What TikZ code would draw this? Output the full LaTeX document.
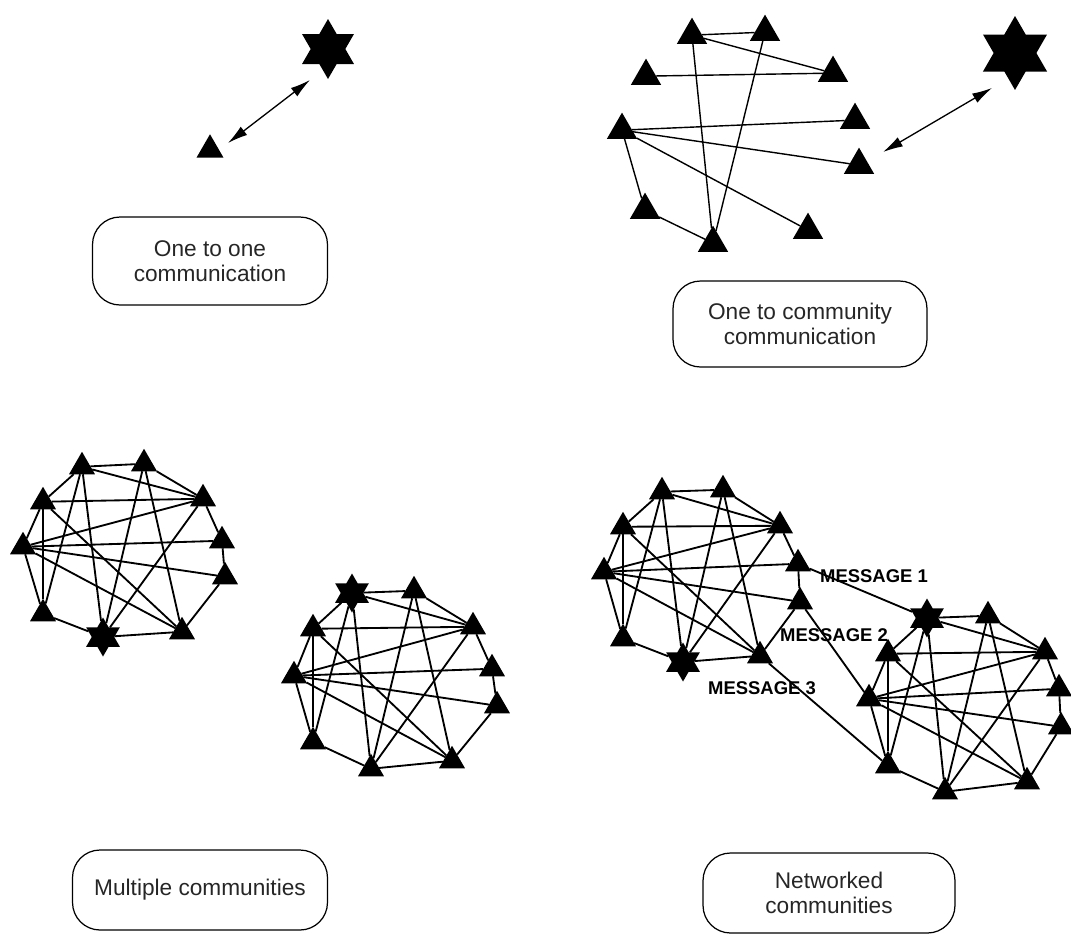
\documentclass[tikz,border=0pt]{standalone}
\usepackage{fontspec}
\setmainfont{Liberation Sans}
\usetikzlibrary{shapes.geometric,arrows.meta}

\tikzset{
  tri/.style={regular polygon, regular polygon sides=3, fill=black, draw=none,
              inner sep=0pt, outer sep=0pt, minimum size=0.6cm, yshift=-0.075cm},
  bigtri/.style={tri, minimum size=0.7cm, yshift=-0.0875cm},
  hexstar/.style={star, star points=6, star point ratio=1.732, fill=black, draw=none,
                  inner sep=0pt, outer sep=0pt, minimum size=0.78cm},
  link/.style={line width=1.05pt, black},
  thinlink/.style={line width=0.8pt, black},
  dblarrow/.style={line width=0.75pt,
                   {Latex[length=0.4cm,width=0.21cm]}-{Latex[length=0.4cm,width=0.21cm]}},
  caption/.style={draw, line width=0.7pt, rounded corners=0.55cm, align=center,
                  font=\fontsize{12.9}{13.9}\selectfont, inner sep=0pt, text=black!85},
  msg/.style={font=\fontsize{10.5}{12}\selectfont\bfseries, inner sep=0pt},
}

% the ten members of a community are A..J; this draws their fixed link pattern
\newcommand\linkcommunity[1]{%
  \foreach \u/\v in {A/B,A/C,A/D,A/H,A/I,B/C,B/I,B/J,C/D,C/E,C/F,C/I,D/F,D/H,D/J,
                     E/F,E/G,F/G,F/H,F/J,G/J,H/I,I/J}
    {\draw[link] (#1\u) -- (#1\v);}%
}

\begin{document}
\begin{tikzpicture}[x=0.02cm, y=-0.02cm]
\useasboundingbox (0,0) rectangle (1071,934);

% ---------- one to one ----------
\node[tri, minimum size=0.62cm] (oT) at (210,146) {};
\node[hexstar, minimum size=1.2cm] (oS) at (328,49) {};
\coordinate (oa) at (228,143);
\coordinate (ob) at (310,80);
\draw[dblarrow] (oa) -- (ob);
\node[caption, minimum width=4.7cm, minimum height=1.76cm] (cap1) at (210,261)
  {One to one\\communication};

% ---------- one to community ----------
\foreach \n/\x/\y in {1/692/27, 2/765/24, 3/646/68, 4/833/65, 5/855/112,
                      6/622/122, 7/859/157, 8/645/202, 9/713/235, 10/808/222}
  \node[bigtri] (t\n) at (\x,\y) {};
\node[hexstar, minimum size=1.48cm] (tS) at (1015,53) {};
\foreach \u/\v in {1/2, 1/4, 3/4, 1/9, 2/9, 6/5, 6/7, 6/8, 6/10, 8/9}
  \draw[thinlink] (t\u) -- (t\v);
\coordinate (ta) at (883,152);
\coordinate (tb) at (992,88);
\draw[dblarrow] (ta) -- (tb);
\node[caption, minimum width=5.08cm, minimum height=1.72cm] (cap2) at (800,324)
  {One to community\\communication};

% ---------- multiple communities ----------
\foreach \n/\x/\y in {A/82/463, B/144/460, C/203/495, D/43/498, E/222/537,
                      F/23/543, G/225/573, H/43/610, J/182/628}
  \node[tri] (p\n) at (\x,\y) {};
\node[hexstar] (pI) at (103,637) {};
\linkcommunity{p}

\node[hexstar] (qA) at (352,593) {};
\foreach \n/\x/\y in {B/414/587, C/473/623, D/313/625, E/492/665, F/294/672,
                      G/497/702, H/313/738, I/371/765, J/452/757}
  \node[tri] (q\n) at (\x,\y) {};
\linkcommunity{q}

\node[caption, minimum width=5.1cm, minimum height=1.6cm] (cap3) at (200,890)
  {Multiple communities};

% ---------- networked communities ----------
\foreach \n/\x/\y in {A/662/488, B/723/486, C/780/522, D/623/523, E/798/560,
                      F/604/568, G/800/598, H/623/635, J/760/652}
  \node[tri] (r\n) at (\x,\y) {};
\node[hexstar] (rI) at (683,662) {};
\linkcommunity{r}

\node[hexstar] (sA) at (927,618) {};
\foreach \n/\x/\y in {B/988/612, C/1045/648, D/888/650, E/1059/685, F/869/695,
                      G/1061/723, H/888/762, I/945/788, J/1027/778}
  \node[tri] (s\n) at (\x,\y) {};
\linkcommunity{s}

% messages passed between the two communities
\draw[link] (rE) -- (sA);
\draw[link] (rG) -- (sF);
\draw[link] (rJ) -- (sH);
\node[msg] (m1) at (874,576) {MESSAGE 1};
\node[msg] (m2) at (834,635) {MESSAGE 2};
\node[msg] (m3) at (762,688) {MESSAGE 3};

\node[caption, minimum width=5.04cm, minimum height=1.6cm] (cap4) at (829,893)
  {Networked\\communities};
\end{tikzpicture}
\end{document}
